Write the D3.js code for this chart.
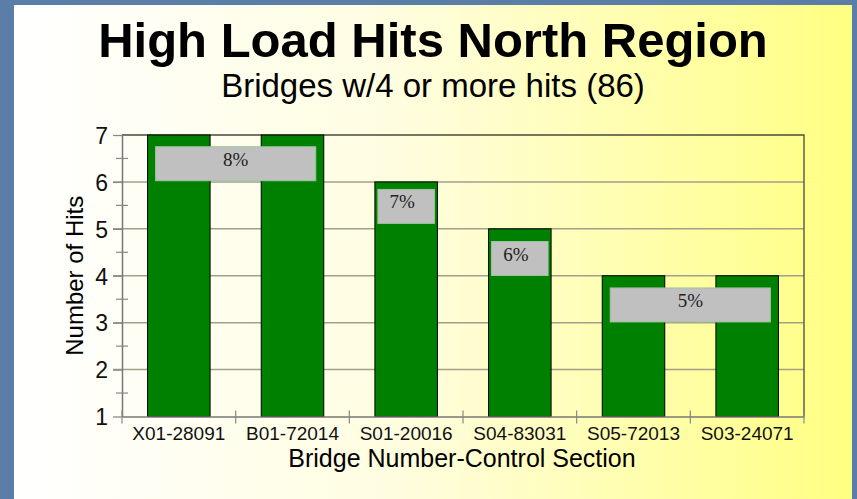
<!DOCTYPE html>
<meta charset="utf-8">
<style>
body { margin: 0; background: #5b7ea8; }
svg { display: block; font-family: "Liberation Sans", Arial, sans-serif; }
.grid line { stroke: #a3a08a; stroke-width: 1.5px; }
.axis text { fill: #111; }
</style>
<svg width="857" height="499"></svg>
<script src="https://d3js.org/d3.v7.min.js"></script>
<script>

var categories = ["X01-28091", "B01-72014", "S01-20016", "S04-83031", "S05-72013", "S03-24071"];
var hits = [7, 7, 6, 5, 4, 4];
var yTicks = [1, 2, 3, 4, 5, 6, 7];
var yMinor = [1.5, 2.5, 3.5, 4.5, 5.5, 6.5];

// percent boxes: text, first and last bar covered, top of box (in hits)
var labelText = ["8%", "7%", "6%", "5%"];
var labelFirst = [0, 2, 3, 4];
var labelLast = [1, 2, 3, 5];
var labelTop = [6.75, 5.84, 4.73, 3.74];

var svg = d3.select("svg"),
    width = +svg.attr("width"),
    height = +svg.attr("height");

// background panel with gradient
var defs = svg.append("defs");
var grad = defs.append("linearGradient").attr("id", "panel").attr("x1", 0).attr("x2", 1).attr("y1", 0).attr("y2", 0);
grad.append("stop").attr("offset", 0).attr("stop-color", "#ffffff");
grad.append("stop").attr("offset", 0.45).attr("stop-color", "#fffde0");
grad.append("stop").attr("offset", 1).attr("stop-color", "#ffff82");

svg.append("rect").attr("width", width).attr("height", height).attr("fill", "#5b7ea8");
svg.append("rect").attr("x", 14).attr("y", 5).attr("width", 838).attr("height", height)
    .attr("fill", "url(#panel)");

svg.append("text").attr("x", 433).attr("y", 57)
    .attr("text-anchor", "middle").attr("font-size", 49).attr("font-weight", "bold")
    .text("High Load Hits North Region");
svg.append("text").attr("x", 433).attr("y", 97)
    .attr("text-anchor", "middle").attr("font-size", 33)
    .text("Bridges w/4 or more hits (86)");

var plotL = 122, plotR = 804, plotT = 135, plotB = 416.5;

var y = d3.scaleLinear().domain([1, 7]).range([plotB, plotT]);
var xCat = d3.scaleBand().domain(d3.range(categories.length)).range([plotL, plotR]);
var x = d3.scaleBand().domain(d3.range(categories.length)).range([plotL, plotR])
    .paddingInner(0.45).paddingOuter(0.225);

// grid
svg.append("g").attr("class", "grid")
  .selectAll("line").data(yTicks.slice(1, -1)).enter().append("line")
    .attr("x1", plotL - 9).attr("x2", plotR)
    .attr("y1", function(d) { return y(d); }).attr("y2", function(d) { return y(d); });

// frame top / right
svg.append("path")
    .attr("d", "M" + plotL + "," + y(7) + "H" + plotR + "V" + y(1))
    .attr("fill", "none").attr("stroke", "#4a4a3a").attr("stroke-width", 1.3);

// bars
svg.append("g").selectAll("rect").data(hits).enter().append("rect")
    .attr("x", function(d, i) { return x(i); })
    .attr("width", x.bandwidth())
    .attr("y", function(d) { return y(d); })
    .attr("height", function(d) { return y(1) - y(d); })
    .attr("fill", "#008000").attr("stroke", "#000").attr("stroke-width", 1);

// y axis
var yAxis = svg.append("g").attr("class", "axis")
    .attr("transform", "translate(" + plotL + ",0)")
    .call(d3.axisLeft(y).tickValues(yTicks).tickSize(9).tickSizeOuter(0).tickPadding(5).tickFormat(d3.format("d")));
yAxis.select(".domain").attr("stroke", "#777").attr("stroke-width", 1.5);
yAxis.selectAll(".tick line").attr("stroke", "#888").attr("stroke-width", 1.3);
yAxis.selectAll("text").attr("font-size", 23).attr("dy", "0.36em");
yAxis.selectAll(".minor").data(yMinor).enter().append("line").attr("class", "minor")
    .attr("x1", -6).attr("x2", 6)
    .attr("y1", function(d) { return y(d); }).attr("y2", function(d) { return y(d); })
    .attr("stroke", "#888").attr("stroke-width", 1.2);

// x axis
var xAxis = svg.append("g").attr("class", "axis")
    .attr("transform", "translate(0," + plotB + ")")
    .call(d3.axisBottom(xCat).tickSize(0).tickPadding(10).tickFormat(function(i) { return categories[i]; }));
xAxis.select(".domain").attr("stroke", "#777").attr("stroke-width", 1.5);
xAxis.selectAll("text").attr("font-size", 19);
xAxis.selectAll(".bound").data(d3.range(categories.length + 1)).enter().append("line").attr("class", "bound")
    .attr("x1", function(i) { return plotL + i * xCat.step(); })
    .attr("x2", function(i) { return plotL + i * xCat.step(); })
    .attr("y1", -6).attr("y2", 7)
    .attr("stroke", "#888").attr("stroke-width", 1.2);

svg.append("text").attr("x", 462).attr("y", 467)
    .attr("text-anchor", "middle").attr("font-size", 25)
    .text("Bridge Number-Control Section");
svg.append("text").attr("transform", "translate(83," + ((plotT + plotB) / 2) + ") rotate(-90)")
    .attr("text-anchor", "middle").attr("font-size", 24)
    .text("Number of Hits");

// percent boxes
var boxH = 34;
var boxes = svg.append("g").selectAll("g").data(labelText).enter().append("g");
boxes.append("rect")
    .attr("x", function(d, i) {
      var inset = labelFirst[i] == labelLast[i] ? 3 : 8;
      return x(labelFirst[i]) + inset;
    })
    .attr("width", function(d, i) {
      var inset = labelFirst[i] == labelLast[i] ? 3 : 8;
      return x(labelLast[i]) + x.bandwidth() - x(labelFirst[i]) - 2 * inset;
    })
    .attr("y", function(d, i) { return y(labelTop[i]); })
    .attr("height", boxH)
    .attr("fill", "#c0c0c0").attr("stroke", "#9cc49a").attr("stroke-width", 1);
boxes.append("text")
    .attr("x", function(d, i) {
      var c = (x(labelFirst[i]) + x(labelLast[i]) + x.bandwidth()) / 2;
      return labelFirst[i] == labelLast[i] ? c - 4 : c;
    })
    .attr("y", function(d, i) { return y(labelTop[i]) + 19; })
    .attr("text-anchor", "middle")
    .attr("font-family", "'Liberation Serif', 'Times New Roman', serif")
    .attr("font-size", 19).attr("fill", "#222")
    .text(function(d) { return d; });

</script>
